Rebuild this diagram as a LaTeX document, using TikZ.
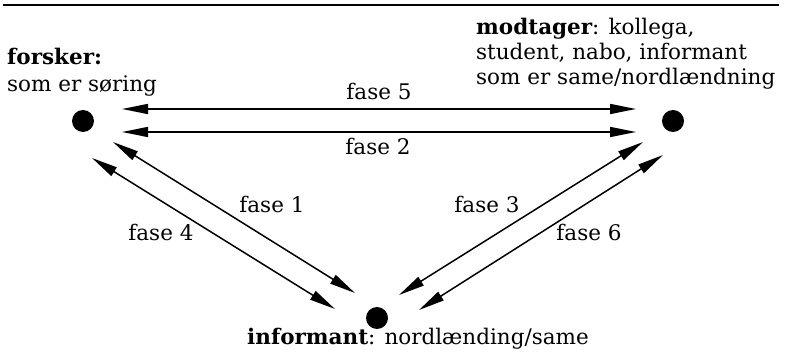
\documentclass[tikz,border=0pt]{standalone}
\usepackage{fontspec}
\setmainfont{DejaVu Serif}
\usetikzlibrary{arrows.meta}
\begin{document}
\begin{tikzpicture}[x=1pt,y=-1pt,
  txt/.style={inner sep=0pt, font=\fontsize{21.5}{25}\selectfont},
  dot/.style={circle, fill=black, minimum size=22pt, inner sep=0pt},
  link/.style={line width=1.5pt, {Triangle[length=26pt,width=10pt]}-{Triangle[length=26pt,width=10pt]}},
  rule/.style={line width=2.5pt}]
\useasboundingbox (0,0) rectangle (786,352);
\coordinate (ruleL) at (3,5);
\coordinate (ruleR) at (779,5);
\draw[rule] (ruleL) -- (ruleR);
% dots
\node[dot] (fo) at (83,121) {};
\node[dot] (mo) at (673,121) {};
\node[dot] (in) at (377,318) {};
% texts
\node[txt, anchor=base west] (fo1) at (7,65) {\bfseries forsker:};
\node[txt, anchor=base west] (fo2) at (7,92) {som er søring};
\node[txt, anchor=base west] (mo1) at (476,35) {\bfseries modtager\mdseries: kollega,};
\node[txt, anchor=base west] (mo2) at (476,60) {student, nabo, informant};
\node[txt, anchor=base west] (mo3) at (476,85) {som er same/nordlændning};
\node[txt, anchor=base] (in1) at (418,344) {\bfseries informant\mdseries: nordlænding/same};
% arrow end points
\coordinate (a5l) at (122,109); \coordinate (a5r) at (636,109);
\coordinate (a2l) at (122,132); \coordinate (a2r) at (636,132);
\coordinate (a1a) at (113,142); \coordinate (a1b) at (355,293);
\coordinate (a4a) at (92,158);  \coordinate (a4b) at (335,309);
\coordinate (a3a) at (643,142); \coordinate (a3b) at (399,295);
\coordinate (a6a) at (663,155); \coordinate (a6b) at (419,310);
\draw[link] (a5l) -- (a5r);
\draw[link] (a2l) -- (a2r);
\draw[link] (a1a) -- (a1b);
\draw[link] (a4a) -- (a4b);
\draw[link] (a3a) -- (a3b);
\draw[link] (a6a) -- (a6b);
% labels
\node[txt, anchor=base] (f5) at (379,100) {fase 5};
\node[txt, anchor=base] (f2) at (378,155) {fase 2};
\node[txt, anchor=base] (f1) at (272,213) {fase 1};
\node[txt, anchor=base] (f4) at (161,241) {fase 4};
\node[txt, anchor=base] (f3) at (487,213) {fase 3};
\node[txt, anchor=base] (f6) at (589,241) {fase 6};
\end{tikzpicture}
\end{document}
